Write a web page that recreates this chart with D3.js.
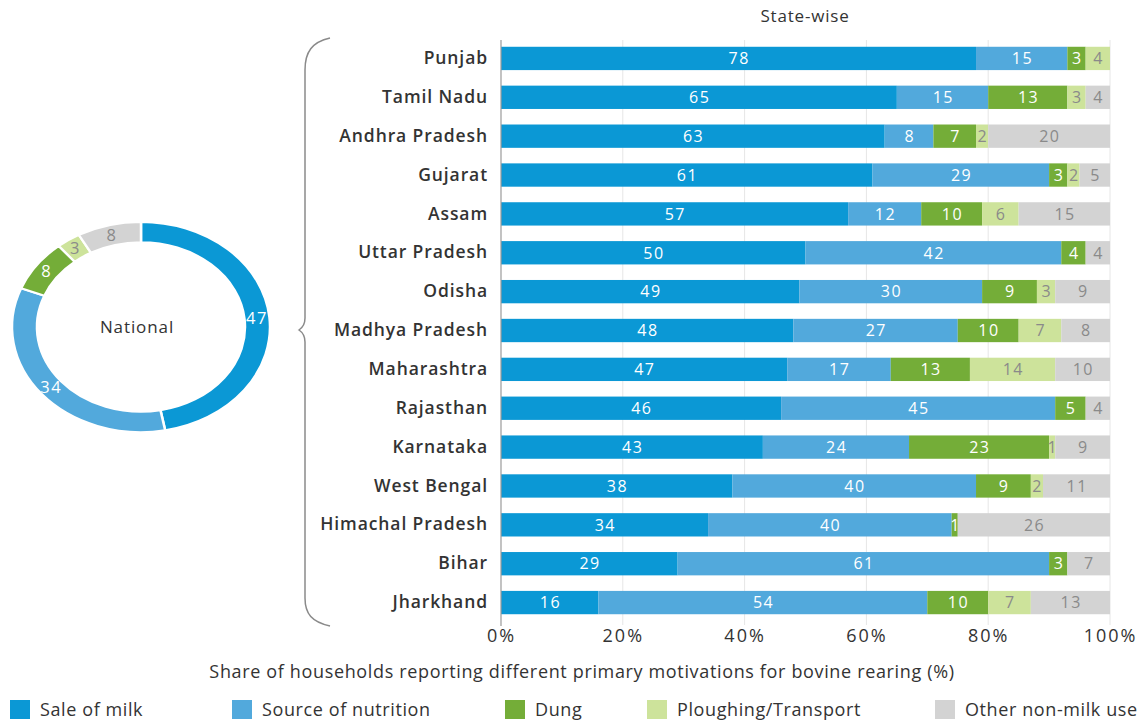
<!DOCTYPE html>
<html>
<head>
<meta charset="utf-8">
<script src="https://cdn.jsdelivr.net/npm/d3@7"></script>
<style>
  html, body { margin: 0; padding: 0; background: #fff; }
  svg { display: block; font-family: "Open Sans", "Noto Sans", sans-serif; }
</style>
</head>
<body>
<svg id="chart" width="1142" height="721"></svg>
<script>
// Primary motivations for bovine rearing, share of households (%)
const states = ["Punjab", "Tamil Nadu", "Andhra Pradesh", "Gujarat", "Assam", "Uttar Pradesh",
  "Odisha", "Madhya Pradesh", "Maharashtra", "Rajasthan", "Karnataka", "West Bengal",
  "Himachal Pradesh", "Bihar", "Jharkhand"];
const saleOfMilk = [78, 65, 63, 61, 57, 50, 49, 48, 47, 46, 43, 38, 34, 29, 16];
const nutrition  = [15, 15, 8, 29, 12, 42, 30, 27, 17, 45, 24, 40, 40, 61, 54];
const dung       = [3, 13, 7, 3, 10, 4, 9, 10, 13, 5, 23, 9, 1, 3, 10];
const ploughing  = [4, 3, 2, 2, 6, 0, 3, 7, 14, 0, 1, 2, 0, 0, 7];
const otherUse   = [0, 4, 20, 5, 15, 4, 9, 8, 10, 4, 9, 11, 26, 7, 13];

const seriesNames = ["Sale of milk", "Source of nutrition", "Dung", "Ploughing/Transport", "Other non-milk use"];
const seriesKeys = ["milk", "nutrition", "dung", "plough", "other"];
const seriesColors = ["#0b98d5", "#52a9dc", "#74ad38", "#cde39b", "#d3d3d3"];
const labelColors = ["#ffffff", "#ffffff", "#ffffff", "#8a8a8a", "#8a8a8a"];

const nationalValues = [47, 34, 8, 3, 8];
const xTicks = [0, 20, 40, 60, 80, 100];

const svg = d3.select("#chart");

// ---------- State-wise stacked bars ----------
const rows = states.map((s, i) => ({
  state: s, milk: saleOfMilk[i], nutrition: nutrition[i], dung: dung[i],
  plough: ploughing[i], other: otherUse[i]
}));

const x = d3.scaleLinear().domain([0, 100]).range([501, 1110]).clamp(true);
const y = d3.scaleBand().domain(states).range([39, 622]).paddingInner(0.4).paddingOuter(0.2);
const color = d3.scaleOrdinal().domain(seriesKeys).range(seriesColors);
const textColor = d3.scaleOrdinal().domain(seriesKeys).range(labelColors);

svg.append("text")
  .attr("x", 805).attr("y", 22)
  .attr("text-anchor", "middle")
  .attr("font-size", 17).attr("letter-spacing", 0.8).attr("fill", "#333")
  .text("State-wise");

// vertical gridlines
svg.append("g").selectAll("line")
  .data(xTicks.slice(1))
  .join("line")
  .attr("x1", d => x(d)).attr("x2", d => x(d))
  .attr("y1", 40).attr("y2", 625)
  .attr("stroke", "#e6e6e6").attr("stroke-width", 1);

const stack = d3.stack().keys(seriesKeys)(rows);

const layer = svg.append("g").selectAll("g")
  .data(stack)
  .join("g")
  .attr("fill", d => color(d.key));

layer.selectAll("rect")
  .data(d => d.filter(p => p[1] - p[0] > 0))
  .join("rect")
  .attr("x", d => x(d[0]))
  .attr("y", d => y(d.data.state))
  .attr("width", d => x(d[1]) - x(d[0]))
  .attr("height", y.bandwidth());

const labels = svg.append("g").selectAll("g")
  .data(stack)
  .join("g")
  .attr("fill", d => textColor(d.key))
  .attr("font-size", 16)
  .attr("letter-spacing", 1.5)
  .attr("text-anchor", "middle");

labels.selectAll("text")
  .data(d => d.filter(p => p[1] - p[0] > 0))
  .join("text")
  .attr("x", d => (x(d[0]) + x(d[1])) / 2 + 0.75)
  .attr("y", d => y(d.data.state) + y.bandwidth() / 2)
  .attr("dy", "0.36em")
  .text(d => d[1] - d[0]);

// y axis line
svg.append("line")
  .attr("x1", x(0)).attr("x2", x(0))
  .attr("y1", 40).attr("y2", 626)
  .attr("stroke", "#9a9a9a").attr("stroke-width", 1.2);

// state names
const yAxis = svg.append("g")
  .attr("transform", `translate(${x(0)},0)`)
  .call(d3.axisLeft(y).tickSize(0).tickPadding(13));
yAxis.select(".domain").remove();
yAxis.selectAll("text")
  .attr("font-family", "'Open Sans', sans-serif")
  .attr("font-size", 17.5).attr("font-weight", 600)
  .attr("letter-spacing", 0.9)
  .attr("fill", "#333");

// x axis
const xAxis = svg.append("g")
  .attr("transform", "translate(0,622)")
  .call(d3.axisBottom(x).tickValues(xTicks).tickFormat(d => d + "%").tickSize(0).tickPadding(7));
xAxis.select(".domain").remove();
xAxis.selectAll("text")
  .attr("font-family", "'Open Sans', sans-serif")
  .attr("font-size", 18).attr("fill", "#333")
  .attr("letter-spacing", 2);

svg.append("text")
  .attr("x", 582).attr("y", 678)
  .attr("text-anchor", "middle")
  .attr("font-size", 18).attr("letter-spacing", 0.65).attr("fill", "#333")
  .text("Share of households reporting different primary motivations for bovine rearing (%)");

// brace grouping the states
svg.append("path")
  .attr("d", "M330,38 C312,42 305,52 305,70 L305,318 Q305,326 299,330 Q305,334 305,342 L305,598 C305,614 312,622 330,626")
  .attr("fill", "none").attr("stroke", "#8a8a8a").attr("stroke-width", 1.5);

// ---------- National donut ----------
const cx = 141, cy = 327, squash = 0.815;
const pie = d3.pie().sort(null).value(d => d)(nationalValues);
const arc = d3.arc().innerRadius(104).outerRadius(129);

svg.append("g")
  .attr("transform", `translate(${cx},${cy}) scale(1,${squash})`)
  .selectAll("path")
  .data(pie)
  .join("path")
  .attr("d", arc)
  .attr("fill", (d, i) => seriesColors[i])
  .attr("stroke", "#fff").attr("stroke-width", 2.5);

svg.append("g").selectAll("text")
  .data(pie)
  .join("text")
  .attr("x", d => cx + arc.centroid(d)[0])
  .attr("y", d => cy + arc.centroid(d)[1] * squash)
  .attr("dy", "0.36em")
  .attr("text-anchor", "middle")
  .attr("font-size", 16.5)
  .attr("letter-spacing", 1.5)
  .attr("fill", (d, i) => labelColors[i])
  .text(d => d.data);

svg.append("text")
  .attr("x", cx - 4).attr("y", cy)
  .attr("dy", "0.36em")
  .attr("text-anchor", "middle")
  .attr("font-size", 17).attr("letter-spacing", 0.9).attr("fill", "#333")
  .text("National");

// ---------- Legend ----------
const legendTextX = [40, 262, 535, 677, 965];
const legend = svg.append("g").selectAll("g")
  .data(seriesNames)
  .join("g")
  .attr("transform", (d, i) => `translate(${legendTextX[i]},700)`);
legend.append("rect")
  .attr("x", -30)
  .attr("width", 20).attr("height", 19)
  .attr("fill", (d, i) => seriesColors[i]);
legend.append("text")
  .attr("x", 0).attr("y", 10).attr("dy", "0.36em")
  .attr("font-size", 18).attr("letter-spacing", 0.6).attr("fill", "#333")
  .text(d => d);
</script>
</body>
</html>
